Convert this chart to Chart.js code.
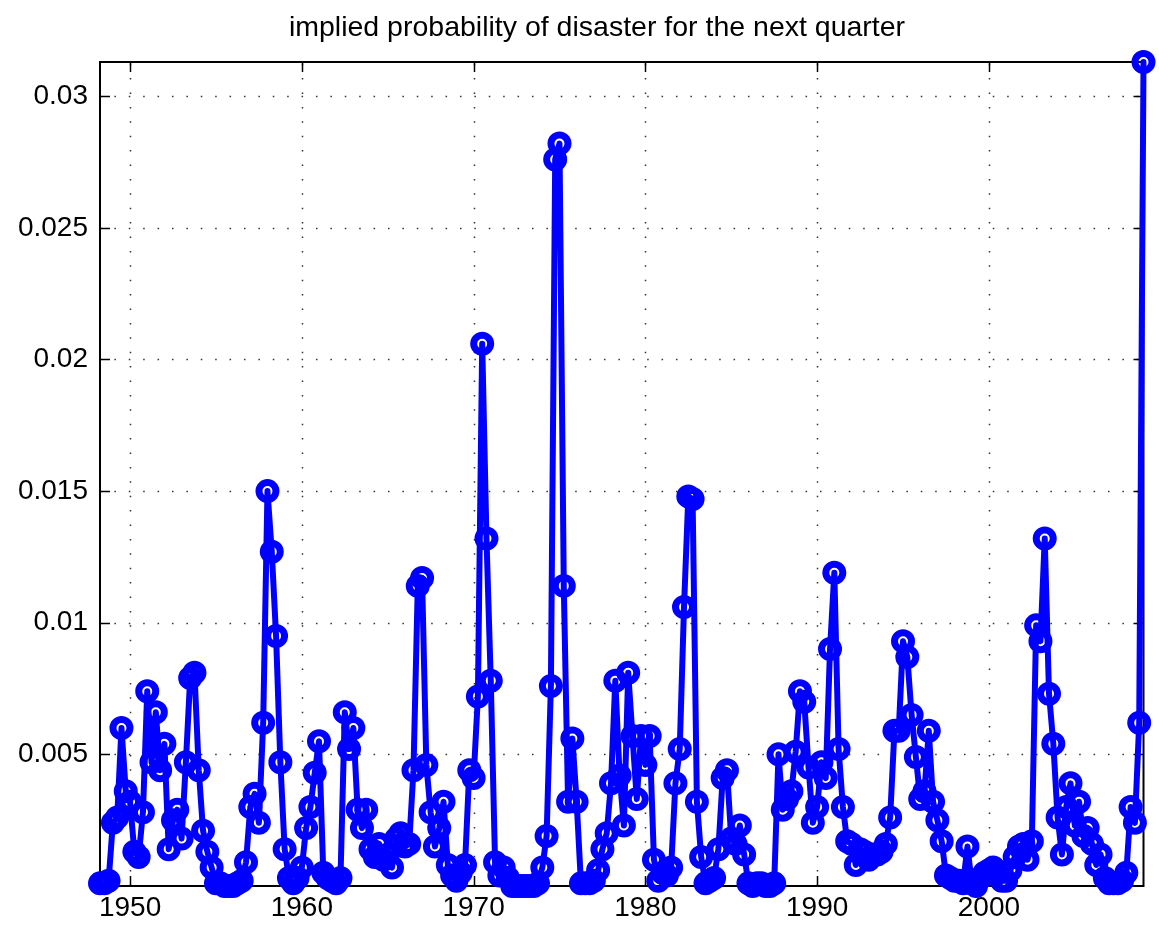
<!DOCTYPE html>
<html>
<head>
<meta charset="utf-8">
<script src="https://cdn.jsdelivr.net/npm/chart.js@4.4.1/dist/chart.umd.min.js"></script>
<style>
  html, body { margin: 0; padding: 0; background: #fff; }
  #wrap { width: 1159px; height: 930px; }
</style>
</head>
<body>
<div id="wrap"><canvas id="chart" width="1159" height="930"></canvas></div>
<script>
// quarterly series, 1948Q2 .. 2009Q1
const startYear = 1948.25
const endYear = 2009.0

const probDisaster = [
  0.0001, 0.0001, 0.0002, 0.0024, 0.0026, 0.0060, 0.0036, 0.0032, 0.0013, 0.0011,
  0.0028, 0.0074, 0.0047, 0.0066, 0.0044, 0.0054, 0.0014, 0.0025, 0.0029, 0.0018,
  0.0047, 0.0079, 0.0081, 0.0044, 0.0021, 0.0013, 0.0007, 0.0001,
  0.0001, 0.0000, 0.0000, 0.0000, 0.0001, 0.0002, 0.0009,
  0.0030, 0.0035, 0.0024, 0.0062, 0.0150, 0.0127, 0.0095, 0.0047, 0.0014, 0.0003,
  0.0001, 0.0003, 0.0007, 0.0022, 0.0030, 0.0043, 0.0055, 0.0005, 0.0003, 0.0002,
  0.0001, 0.0003, 0.0066, 0.0052, 0.0060, 0.0029, 0.0022,
  0.0029, 0.0014, 0.0011, 0.0016, 0.0010, 0.0012, 0.0007, 0.0018, 0.0020, 0.0015,
  0.0016, 0.0044,
  0.0114, 0.0117, 0.0046, 0.0028, 0.0015, 0.0022, 0.0032, 0.0008, 0.0004, 0.0002,
  0.0005, 0.0008, 0.0044, 0.0041, 0.0072, 0.0206, 0.0132, 0.0078,
  0.0009, 0.0004, 0.0007, 0.0003, 0.0000, 0.0000, 0.0000, 0.0000, 0.0000, 0.0000,
  0.0001, 0.0007, 0.0019, 0.0076, 0.0276, 0.0282, 0.0114, 0.0032, 0.0056, 0.0032,
  0.0001,
  0.0001, 0.0001, 0.0002, 0.0006, 0.0014, 0.0020, 0.0039, 0.0078, 0.0042, 0.0023,
  0.0081,
  0.0057, 0.0033, 0.0057, 0.0046, 0.0057, 0.0010, 0.0002, 0.0005, 0.0004,
  0.0007, 0.0039, 0.0052, 0.0106, 0.0148, 0.0147, 0.0032, 0.0011, 0.0001, 0.0002,
  0.0003, 0.0014, 0.0041, 0.0044, 0.0018, 0.0016, 0.0023, 0.0012, 0.0001, 0.0000,
  0.0001, 0.0001, 0.0000, 0.0000, 0.0001,
  0.0050, 0.0029, 0.0033,
  0.0036, 0.0051, 0.0074, 0.0070, 0.0045, 0.0024, 0.0030, 0.0047, 0.0041, 0.0090,
  0.0119,
  0.0052, 0.0030, 0.0017, 0.0016, 0.0008, 0.0014, 0.0013, 0.0010, 0.0012, 0.0012,
  0.0013, 0.0016, 0.0026, 0.0059, 0.0059, 0.0093, 0.0087, 0.0065, 0.0049, 0.0033,
  0.0036, 0.0059, 0.0032, 0.0025, 0.0017,
  0.0004, 0.0003, 0.0002, 0.0002,
  0.0001, 0.0015, 0.0001, 0.0000, 0.0003, 0.0005, 0.0006, 0.0007, 0.0005, 0.0002,
  0.0002, 0.0006, 0.0011, 0.0015, 0.0016, 0.0010, 0.0017, 0.0099, 0.0093, 0.0132,
  0.0073, 0.0054, 0.0026, 0.0012, 0.0030, 0.0039, 0.0023, 0.0032, 0.0019, 0.0022,
  0.0016,
  0.0008, 0.0012, 0.0003, 0.0001, 0.0001,
  0.0001, 0.0002, 0.0005, 0.0030, 0.0024, 0.0062, 0.0313,
]

const quarters = probDisaster.map((_, i) => startYear + i * 0.25)

const xTicks = [1950, 1960, 1970, 1980, 1990, 2000]
const yTicks = [0.005, 0.01, 0.015, 0.02, 0.025, 0.03]
const titleText = 'implied probability of disaster for the next quarter'

const FONT = "'Liberation Sans', Arial, Helvetica, sans-serif"

// matlab-ish axes: dotted grid, box, inward ticks (drawn under the data)
const axesBox = {
  id: 'axesBox',
  beforeDatasetsDraw(chart) {
    const { ctx, chartArea: a, scales } = chart
    ctx.save()
    ctx.strokeStyle = '#333'
    ctx.lineWidth = 1.5
    ctx.setLineDash([1.5, 12.9])
    xTicks.forEach((t) => {
      const x = Math.round(scales.x.getPixelForValue(t)) + 0.5
      ctx.beginPath()
      ctx.moveTo(x, a.bottom)
      ctx.lineTo(x, a.top)
      ctx.stroke()
    })
    yTicks.forEach((t) => {
      const y = Math.round(scales.y.getPixelForValue(t)) + 0.5
      ctx.beginPath()
      ctx.moveTo(a.left, y)
      ctx.lineTo(a.right, y)
      ctx.stroke()
    })
    ctx.setLineDash([])
    ctx.strokeStyle = '#000'
    ctx.lineWidth = 1.5
    const tl = 10
    xTicks.forEach((t) => {
      const x = Math.round(scales.x.getPixelForValue(t)) + 0.5
      ctx.beginPath()
      ctx.moveTo(x, a.bottom)
      ctx.lineTo(x, a.bottom - tl)
      ctx.moveTo(x, a.top)
      ctx.lineTo(x, a.top + tl)
      ctx.stroke()
    })
    yTicks.forEach((t) => {
      const y = Math.round(scales.y.getPixelForValue(t)) + 0.5
      ctx.beginPath()
      ctx.moveTo(a.left, y)
      ctx.lineTo(a.left + tl, y)
      ctx.moveTo(a.right, y)
      ctx.lineTo(a.right - tl, y)
      ctx.stroke()
    })
    ctx.lineWidth = 2
    ctx.strokeRect(a.left, a.top, a.right - a.left, a.bottom - a.top)

    // title
    ctx.fillStyle = '#000'
    ctx.font = '28.5px ' + FONT
    ctx.textAlign = 'center'
    ctx.textBaseline = 'middle'
    ctx.fillText(titleText, 597, 28)
    ctx.restore()
  },
}

new Chart(document.getElementById('chart'), {
  type: 'line',
  data: {
    datasets: [
      {
        data: quarters.map((q, i) => ({ x: q, y: probDisaster[i] })),
        borderColor: '#0000ff',
        borderWidth: 6,
        borderJoinStyle: 'round',
        borderCapStyle: 'round',
        tension: 0,
        pointRadius: 8.5,
        pointBorderWidth: 7,
        pointBorderColor: '#0000ff',
        pointBackgroundColor: 'rgba(0,0,0,0)',
        clip: false,
      },
    ],
  },
  options: {
    responsive: false,
    animation: false,
    events: [],
    layout: { padding: { left: 0, right: 13, top: 62, bottom: 0 } },
    plugins: {
      legend: { display: false },
      tooltip: { enabled: false },
      title: { display: false },
    },
    scales: {
      x: {
        type: 'linear',
        min: startYear,
        max: endYear,
        afterBuildTicks: (axis) => { axis.ticks = xTicks.map((v) => ({ value: v })) },
        afterFit: (axis) => { axis.height = 44 },
        grid: { display: false, drawTicks: false },
        border: { display: false },
        ticks: {
          color: '#000',
          padding: 5,
          maxRotation: 0,
          font: { family: FONT, size: 28 },
          callback: (v) => String(v),
        },
      },
      y: {
        min: 0,
        max: 0.0313,
        afterBuildTicks: (axis) => { axis.ticks = yTicks.map((v) => ({ value: v })) },
        afterFit: (axis) => { axis.width = 100 },
        grid: { display: false, drawTicks: false },
        border: { display: false },
        ticks: {
          color: '#000',
          padding: 12,
          font: { family: FONT, size: 28 },
          callback: (v) => String(Number(v.toFixed(3))),
        },
      },
    },
  },
  plugins: [axesBox],
})
</script>
</body>
</html>
